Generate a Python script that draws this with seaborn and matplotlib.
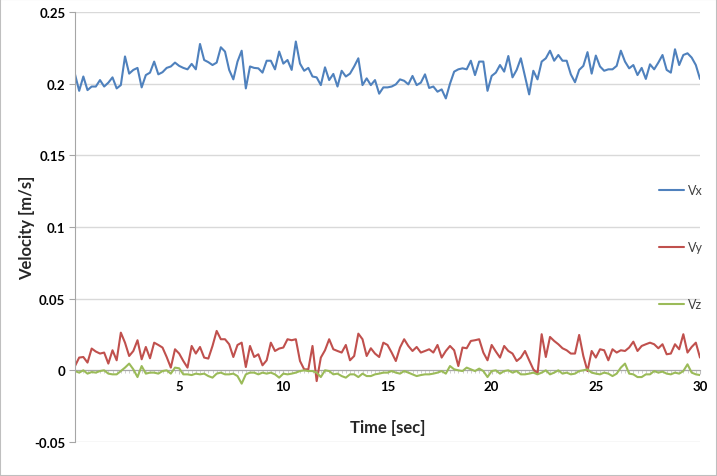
import numpy as np
import pandas as pd
import matplotlib
matplotlib.use("Agg")
import matplotlib.pyplot as plt
import seaborn as sns
from matplotlib.patches import Rectangle
from matplotlib.ticker import FixedLocator, FuncFormatter, MultipleLocator

# ---- data ----
vx = [
    0.2065, 0.195, 0.205, 0.1955, 0.198, 0.198, 0.2025, 0.198, 0.2007, 0.2044,
    0.1967, 0.199, 0.219, 0.207, 0.2096, 0.211, 0.1974, 0.206, 0.2077, 0.2154,
    0.2065, 0.208, 0.211, 0.212, 0.2147, 0.2124, 0.211, 0.210, 0.2138, 0.210,
    0.2277, 0.2165, 0.215, 0.213, 0.2147, 0.2254, 0.2224, 0.2096, 0.203, 0.2154,
    0.223, 0.1967, 0.212, 0.211, 0.2107, 0.2077, 0.216, 0.216, 0.210, 0.2224,
    0.214, 0.2165, 0.2096, 0.2294, 0.214, 0.209, 0.211, 0.205, 0.2044, 0.199,
    0.2114, 0.2025, 0.2068, 0.198, 0.209, 0.205, 0.207, 0.212, 0.2177, 0.199,
    0.2037, 0.199, 0.2025, 0.193, 0.1974,
    0.1974, 0.198, 0.1995, 0.203, 0.202, 0.1995, 0.2054, 0.199, 0.2007, 0.2065,
    0.197, 0.198, 0.1944, 0.196, 0.1897, 0.200, 0.2084, 0.210, 0.2107, 0.210,
    0.216, 0.206, 0.2154, 0.2154, 0.195, 0.2054, 0.2077, 0.213, 0.2084, 0.2193,
    0.2044, 0.2096, 0.2177, 0.205, 0.1925, 0.209, 0.203, 0.2154, 0.2177, 0.223,
    0.216, 0.22, 0.216, 0.216, 0.2065, 0.201, 0.2096, 0.2124, 0.222, 0.207,
    0.2196, 0.212, 0.209, 0.210, 0.210, 0.2124, 0.223, 0.2154, 0.2107, 0.213,
    0.206, 0.211, 0.2033, 0.2135, 0.210, 0.2147, 0.22, 0.2096, 0.2077, 0.224,
    0.213, 0.22, 0.2212, 0.2182, 0.213, 0.2033,
]
vy = [
    0.0030, 0.0089, 0.0093, 0.0054, 0.0152, 0.0131, 0.0117, 0.0124, 0.0047, 0.0140,
    0.0070, 0.0263, 0.0193, 0.0100, 0.0135, 0.0210, 0.0077, 0.0163, 0.0084, 0.0193,
    0.0177, 0.0159, 0.0093, 0.0019, 0.0147, 0.0117, 0.0065, 0.0019, 0.0170, 0.0117,
    0.0163, 0.0089, 0.0082, 0.0170, 0.0275, 0.0217, 0.0217, 0.0182, 0.0093, 0.0177,
    0.0193, 0.0023, 0.0170, 0.0093, 0.0112, 0.0035, 0.0070, 0.0193, 0.0135, 0.0152,
    0.0159, 0.0217, 0.0210, 0.0217, 0.0065, 0.0007, 0.0007, 0.0170, -0.0075, 0.0089,
    0.0140, 0.0217, 0.0147, 0.0135, 0.0124, 0.0177, 0.0070, 0.0100, 0.0256, 0.0217,
    0.0100, 0.0154, 0.0117, 0.0093, 0.0193,
    0.0177, 0.0124, 0.0065, 0.0159, 0.0217, 0.0170, 0.0135, 0.0163, 0.0124, 0.0135,
    0.0147, 0.0124, 0.0177, 0.0089, 0.0135, 0.0170, 0.0140, 0.0030, 0.0159, 0.0154,
    0.0205, 0.0210, 0.0217, 0.0124, 0.0070, 0.0177, 0.0131, 0.0089, 0.0170, 0.0135,
    0.0117, 0.0065, 0.0089, 0.0135, 0.0070, 0.0007, -0.0023, 0.0252, 0.0093, 0.0233,
    0.0205, 0.0182, 0.0154, 0.0140, 0.0117, 0.0117, 0.0247, 0.0100, -0.0005, 0.0135,
    0.0089, 0.0147, 0.0140, 0.0070, 0.0147, 0.0124, 0.0140, 0.0135, 0.0159, 0.0200,
    0.0135, 0.0170, 0.0182, 0.0193, 0.0182, 0.0154, 0.0182, 0.0112, 0.0117, 0.0182,
    0.0147, 0.0252, 0.0124, 0.0163, 0.0193, 0.0089,
]
vz = [
    -0.0005, -0.0016, 0.0000, -0.0023, -0.0012, -0.0016, -0.0005, 0.0000, -0.0023, -0.0028,
    -0.0028, -0.0005, 0.0019, 0.0047, 0.0007, -0.0047, 0.0030, -0.0023, -0.0016, -0.0016,
    -0.0023, -0.0005, 0.0000, -0.0023, 0.0019, 0.0014, -0.0028, -0.0028, -0.0033, -0.0023,
    -0.0028, -0.0023, -0.0040, -0.0051, -0.0023, -0.0016, -0.0028, -0.0028, -0.0023, -0.0040,
    -0.0093, -0.0028, -0.0016, -0.0016, -0.0028, -0.0016, -0.0023, -0.0016, -0.0028, -0.0051,
    -0.0023, -0.0028, -0.0023, -0.0016, -0.0005, 0.0000, -0.0005, -0.0005, -0.0016, -0.0047,
    0.0000, -0.0005, -0.0028, -0.0023, -0.0040, -0.0051, -0.0028, -0.0028, -0.0047, -0.0023,
    -0.0040, -0.0040, -0.0028, -0.0023, -0.0016,
    -0.0016, -0.0005, -0.0016, -0.0023, -0.0005, -0.0016, -0.0028, -0.0040, -0.0033, -0.0028,
    -0.0028, -0.0023, -0.0016, -0.0005, -0.0023, 0.0030, 0.0007, 0.0000, -0.0005, 0.0019,
    0.0007, -0.0005, 0.0012, -0.0005, -0.0047, -0.0005, 0.0000, -0.0023, -0.0005, 0.0000,
    -0.0016, -0.0005, -0.0028, -0.0028, -0.0023, -0.0016, -0.0028, -0.0016, 0.0000, -0.0028,
    -0.0016, 0.0000, -0.0023, -0.0016, -0.0028, -0.0023, -0.0005, 0.0000, 0.0007, -0.0016,
    -0.0023, -0.0028, -0.0016, -0.0023, -0.0040, -0.0023, 0.0019, 0.0047, -0.0023, -0.0028,
    -0.0047, -0.0047, -0.0028, -0.0028, -0.0005, -0.0016, -0.0009, -0.0023, -0.0028, -0.0016,
    -0.0023, -0.0005, 0.0042, -0.0016, -0.0028, -0.0033,
]
time = np.round(np.arange(len(vx)) * 0.2, 1)
series_names = ["Vx", "Vy", "Vz"]
colors = ["#4F81BD", "#C0504D", "#9BBB59"]
x_ticks = [5, 10, 15, 20, 25, 30]
y_ticks = [-0.05, 0, 0.05, 0.1, 0.15, 0.2, 0.25]

df = pd.concat([
    pd.DataFrame({"t": time, "v": vals, "series": name})
    for name, vals in zip(series_names, [vx, vy, vz])
])

# ---- figure ----
sns.set_style("white")
plt.rcParams["font.family"] = ["Lato", "DejaVu Sans"]

fig = plt.figure(figsize=(7.17, 4.77), dpi=100)
ax = fig.add_axes([75 / 717, 1 - 443 / 477, 625 / 717, 430 / 477])

sns.lineplot(data=df, x="t", y="v", hue="series", hue_order=series_names,
             palette=colors, linewidth=1.5, ax=ax, legend=True, sort=False)

ax.set_xlim(0, 30)
ax.set_ylim(-0.05, 0.25)

ax.yaxis.set_major_locator(FixedLocator(y_ticks))
ax.yaxis.set_major_formatter(FuncFormatter(lambda v, p: f"{v:g}"))
ax.xaxis.set_major_locator(FixedLocator(x_ticks))
ax.xaxis.set_minor_locator(MultipleLocator(0.2))
ax.grid(axis="y", color="#D9D9D9", linewidth=1)
ax.grid(axis="x", visible=False)
ax.set_axisbelow(True)

for s in ["top", "right"]:
    ax.spines[s].set_visible(False)
ax.spines["left"].set_color("#A6A6A6")
ax.spines["bottom"].set_color("#A6A6A6")
ax.spines["bottom"].set_position(("data", 0))
ax.spines["bottom"].set_zorder(1)

ax.tick_params(axis="y", which="major", left=True, length=4, width=0.8,
               color="#A6A6A6", labelsize=9.5, pad=3)
ax.tick_params(axis="x", which="major", bottom=True, length=3, width=0.8,
               color="#BFBFBF", labelsize=9.5, pad=4, direction="out")
ax.tick_params(axis="x", which="minor", bottom=True, length=2.5, width=0.6,
               color="#C8C8C8", direction="out")
for lab in ax.get_xticklabels() + ax.get_yticklabels():
    lab.set_fontweight("bold")
    lab.set_color("#000000")

ax.set_xlabel("")
ax.set_ylabel("")
ax.text(0.5, 0.035, "Time [sec]", transform=ax.transAxes, ha="center",
        va="center", fontsize=12, fontweight="bold")
fig.text(27 / 717, 1 - 228 / 477, "Velocity [m/s]", rotation=90, ha="center",
         va="center", fontsize=12, fontweight="bold")

leg = ax.legend(loc="center right", bbox_to_anchor=(1.012, 0.453),
                frameon=False, fontsize=9, labelspacing=3.6, handlelength=2.0,
                handletextpad=0.3, borderaxespad=0)
for txt in leg.get_texts():
    txt.set_color("#404040")

fig.patches.append(Rectangle((0, 0), 1, 1, transform=fig.transFigure,
                             fill=False, edgecolor="#BFBFBF", linewidth=1.5))

fig.savefig("out.png", dpi=100)
